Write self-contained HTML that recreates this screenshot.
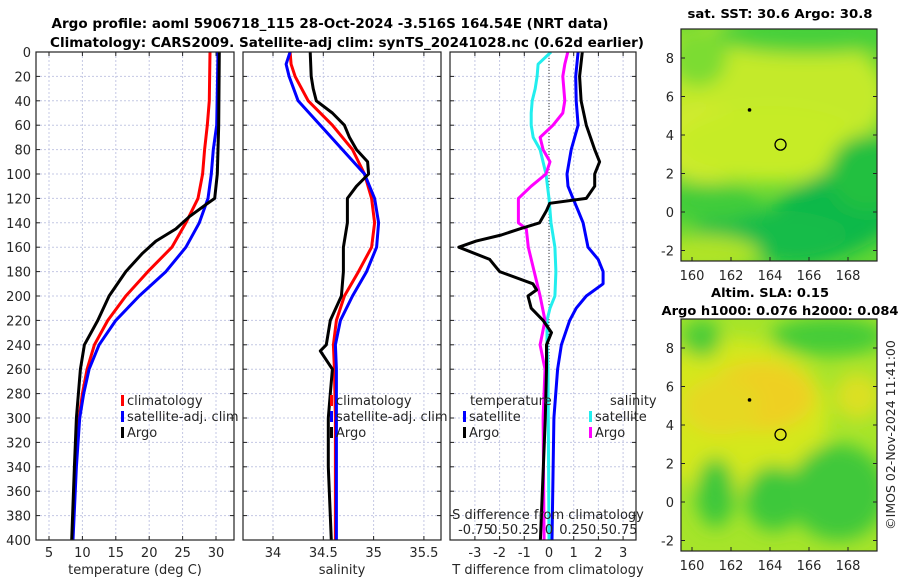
<!DOCTYPE html>
<html><head><meta charset="utf-8"><style>
body{margin:0;background:#fff;width:900px;height:580px;overflow:hidden}
svg{display:block;font-family:"DejaVu Sans","Liberation Sans",sans-serif}
</style></head><body>
<svg id="chart" width="900" height="580" viewBox="0 0 900 580" xmlns="http://www.w3.org/2000/svg">
<defs>
<filter id="blur" x="-20%" y="-20%" width="140%" height="140%"><feGaussianBlur stdDeviation="9"/></filter>
<clipPath id="c1"><rect x="36" y="52" width="198" height="488"/></clipPath>
<clipPath id="c2"><rect x="243" y="52" width="198" height="488"/></clipPath>
<clipPath id="c3"><rect x="450" y="52" width="186" height="488"/></clipPath>
<clipPath id="m1"><rect x="681" y="29" width="196" height="232"/></clipPath>
<clipPath id="m2"><rect x="681" y="319" width="196" height="232"/></clipPath>
</defs>
<text x="330" y="28" text-anchor="middle" font-weight="bold" font-size="13" textLength="557" lengthAdjust="spacingAndGlyphs">Argo profile: aoml 5906718_115 28-Oct-2024 -3.516S 164.54E (NRT data)</text>
<text x="347" y="47" text-anchor="middle" font-weight="bold" font-size="13" textLength="594" lengthAdjust="spacingAndGlyphs">Climatology: CARS2009. Satellite-adj clim: synTS_20241028.nc (0.62d earlier)</text>
<g id="plots"></g>
<g id="maps"></g>
</svg>
<script>
// depth levels per series
const tDepth=[0,40,60,80,100,120,140,160,180,200,220,240,260,280,300,340,400];
const tClim=[29.1,29.0,28.7,28.3,28.0,27.3,25.5,23.4,19.8,16.5,13.8,11.8,10.7,10.0,9.5,9.0,8.5];
const tSatDepth=[0,60,80,100,120,140,160,180,200,220,240,260,280,300,340,400];
const tSat=[30.3,30.1,29.6,29.3,28.8,27.5,25.5,22.5,18.5,15.0,12.5,11.0,10.2,9.6,9.1,8.6];
const tArgoDepth=[0,60,100,120,125,135,145,155,165,180,200,220,240,260,300,340,400];
const tArgo=[30.5,30.4,30.2,29.8,28.5,26.0,24.0,21.0,19.0,16.5,14.0,12.3,10.3,9.7,9.1,8.8,8.4];
const sDepth=[0,10,20,40,60,80,100,120,140,160,180,200,220,240,260,300,400];
const sClim=[34.17,34.18,34.22,34.35,34.59,34.79,34.91,34.98,35.01,34.98,34.85,34.71,34.63,34.60,34.61,34.62,34.62];
const sSat=[34.17,34.13,34.16,34.25,34.47,34.69,34.91,35.01,35.05,35.03,34.93,34.79,34.67,34.62,34.63,34.63,34.63];
const sArgoDepth=[0,20,30,40,50,60,70,80,90,100,110,120,140,160,180,200,220,240,245,260,280,300,340,400];
const sArgo=[34.37,34.38,34.40,34.43,34.59,34.71,34.76,34.83,34.94,34.95,34.83,34.74,34.74,34.70,34.70,34.68,34.57,34.53,34.47,34.59,34.57,34.55,34.55,34.58];
const dTSatDepth=[0,20,40,60,80,100,110,120,130,140,160,170,180,190,200,210,220,240,260,300,400];
const dTSat=[1.18,1.08,1.1,1.18,0.9,0.73,0.77,0.97,1.18,1.38,1.58,1.99,2.19,2.19,1.51,1.1,0.84,0.5,0.35,0.2,0.12];
const dTArgoDepth=[0,20,40,60,80,90,100,110,120,124,130,140,145,150,155,160,170,180,190,195,200,210,220,230,240,260,300,400];
const dTArgo=[1.35,1.24,1.3,1.51,1.85,2.05,1.85,1.85,1.51,0.03,-0.1,-0.38,-1.19,-1.93,-2.95,-3.65,-2.4,-2.0,-0.65,-0.5,-0.85,-0.72,-0.24,0.1,-0.1,-0.1,-0.15,-0.35];
const dSSatDepth=[0,10,20,30,40,50,60,70,80,100,120,140,160,180,200,210,220,240,260,400];
const dSSat=[0.02,-0.11,-0.12,-0.14,-0.17,-0.18,-0.18,-0.16,-0.09,-0.03,0,0.02,0.06,0.07,0.06,0.01,-0.02,-0.02,-0.01,0.0];
const dSArgoDepth=[0,10,20,40,50,60,70,80,90,100,110,120,140,145,160,180,200,220,240,260,300,400];
const dSArgo=[0.19,0.16,0.14,0.16,0.14,0.04,-0.09,-0.06,0.01,-0.03,-0.18,-0.31,-0.31,-0.23,-0.21,-0.15,-0.09,-0.04,-0.09,-0.04,-0.06,-0.05];
const depthTicks=[0,20,40,60,80,100,120,140,160,180,200,220,240,260,280,300,320,340,360,380,400];
const tTicks=[5,10,15,20,25,30];
const sTicks=[34,34.5,35,35.5];
const sTickLabels=["34","34.5","35","35.5"];
const dTicks=[-3,-2,-1,0,1,2,3];
const dSTickLabels=["-0.75","0.5","0.25","0","0.25","0.5","0.75"];
const dSTicks=[-0.75,-0.5,-0.25,0,0.25,0.5,0.75];

const NS='http://www.w3.org/2000/svg';
const g=document.getElementById('plots');
function el(tag,attrs,parent,text){const e=document.createElementNS(NS,tag);for(const k in attrs)e.setAttribute(k,attrs[k]);if(text!==undefined)e.textContent=text;(parent||g).appendChild(e);return e;}
const yD=d=>52+d*1.22;
const xT=t=>49+(t-5)*6.68;
const xS=s=>273+(s-34)*100.6;
const xDT=t=>549+t*24.7;
const xDS=s=>549+s*98.8;
const panels=[{x:36,w:198,clip:'c1',ticks:tTicks,labels:tTicks.map(String),fx:xT,name:'temperature-panel',xl:'temperature (deg C)',xlx:135},
{x:243,w:198,clip:'c2',ticks:sTicks,labels:sTickLabels,fx:xS,name:'salinity-panel',xl:'salinity',xlx:342},
{x:450,w:186,clip:'c3',ticks:dTicks,labels:dTicks.map(String),fx:xDT,name:'difference-panel',xl:'T difference from climatology',xlx:548}];
panels.forEach((p,pi)=>{
  const pg=el('g',{});
  
  
  depthTicks.forEach(d=>{
    if(d>0&&d<400){const l=el('line',{x1:p.x,x2:p.x+p.w,y1:yD(d),y2:yD(d),stroke:'#c4c8e4','stroke-width':1,'stroke-dasharray':'2,2'},pg);
    }
    el('line',{x1:p.x,x2:p.x+4,y1:yD(d),y2:yD(d),stroke:'#222'},pg);
    el('line',{x1:p.x+p.w,x2:p.x+p.w-4,y1:yD(d),y2:yD(d),stroke:'#222'},pg);
    if(pi===0){const t=el('text',{x:p.x-5,y:yD(d)+5,'text-anchor':'end','font-size':13,fill:'#262626'},pg,String(d));
    }
  });
  p.ticks.forEach((v,i)=>{
    const x=p.fx(v);
    el('line',{x1:x,x2:x,y1:52,y2:540,stroke:'#c4c8e4','stroke-dasharray':'2,2'},pg);
    el('line',{x1:x,x2:x,y1:540,y2:536,stroke:'#222'},pg);
    el('line',{x1:x,x2:x,y1:52,y2:56,stroke:'#222'},pg);
    const t=el('text',{x:x,y:557,'text-anchor':'middle','font-size':13,fill:'#262626'},pg,p.labels[i]);
    
  });
  const xl=el('text',{x:p.xlx,y:574,'text-anchor':'middle','font-size':13,fill:'#262626'},pg,p.xl);
  
});
function series(depths,vals,fx,color,clip,name,w){
  const pts=depths.map((d,i)=>fx(vals[i]).toFixed(1)+','+yD(d).toFixed(1)).join(' ');
  const pl=el('polyline',{points:pts,fill:'none',stroke:color,'stroke-width':w||3,'stroke-linejoin':'round','clip-path':'url(#'+clip+')'});
  
  
}
// zero line in diff panel
const z=el('line',{x1:xDT(0),x2:xDT(0),y1:52,y2:540,stroke:'#333','stroke-width':1,'stroke-dasharray':'1,2'});


series(tDepth,tClim,xT,'#ff0000','c1','temp-climatology-line');
series(tSatDepth,tSat,xT,'#0000ff','c1','temp-satellite-line');
series(tArgoDepth,tArgo,xT,'#000','c1','temp-argo-line');
series(sDepth,sClim,xS,'#ff0000','c2','sal-climatology-line');
series(sDepth,sSat,xS,'#0000ff','c2','sal-satellite-line');
series(sArgoDepth,sArgo,xS,'#000','c2','sal-argo-line');
series(dSSatDepth,dSSat,xDS,'#22eeee','c3','sdiff-satellite-line');
series(dSArgoDepth,dSArgo,xDS,'#ff00ff','c3','sdiff-argo-line');
series(dTSatDepth,dTSat,xDT,'#0000ff','c3','tdiff-satellite-line');
series(dTArgoDepth,dTArgo,xDT,'#000','c3','tdiff-argo-line');
// S diff labels inside plot
const sl=el('text',{x:548,y:519,'text-anchor':'middle','font-size':13,fill:'#262626'},g,'S difference from climatology');


dSTicks.forEach((v,i)=>{
  const t=el('text',{x:xDS(v),y:534,'text-anchor':'middle','font-size':13,fill:'#262626'},g,dSTickLabels[i]);
  
  
});
// frames
panels.forEach(p=>{el('rect',{x:p.x,y:52,width:p.w,height:488,fill:'none',stroke:'#222','stroke-width':1.2});});
// legends
function legend(x,y,color,label){
  const lg=el('g',{});
  
  
  el('rect',{x:x,y:y-10,width:3,height:11,fill:color},lg);
  el('text',{x:x+6,y:y,'font-size':13,fill:'#262626'},lg,label);
}
legend(121,405,'#ff0000','climatology');legend(121,421,'#0000ff','satellite-adj. clim');legend(121,437,'#000','Argo');
legend(330,405,'#ff0000','climatology');legend(330,421,'#0000ff','satellite-adj. clim');legend(330,437,'#000','Argo');
const lt=el('text',{x:470,y:405,'font-size':13,fill:'#262626'},g,'temperature');


const ls=el('text',{x:610,y:405,'font-size':13,fill:'#262626'},g,'salinity');


legend(463,421,'#0000ff','satellite');legend(463,437,'#000','Argo');
legend(589,421,'#22eeee','satellite');legend(589,437,'#ff00ff','Argo');

// ---- maps ----
const mg=document.getElementById('maps');
const lonTicks=[160,162,164,166,168];
const latTicks=[-2,0,2,4,6,8];
const xLon=l=>692+(l-160)*19.5;
function drawMap(top,zero,clip,name,blobs,base){
  const yLat=a=>zero-a*19.25;
  const m=el('g',{},mg);
  
  
  el('rect',{x:681,y:top,width:196,height:232,fill:base},m);
  const bg=el('g',{filter:'url(#blur)','clip-path':'url(#'+clip+')'},m);
  blobs.forEach(b=>el('ellipse',{cx:xLon(b[0]),cy:yLat(b[1]),rx:b[2]*19.5,ry:b[3]*19.25,fill:b[4],transform:'rotate('+(b[5]||0)+' '+xLon(b[0])+' '+yLat(b[1])+')'},bg));
  const c=el('circle',{cx:xLon(164.54),cy:yLat(3.5),r:5.5,fill:'none',stroke:'#000','stroke-width':1.3},m);
  
  
  el('circle',{cx:xLon(162.95),cy:yLat(5.3),r:1.8,fill:'#000'},m);
  el('rect',{x:681,y:top,width:196,height:232,fill:'none',stroke:'#222','stroke-width':1.2},m);
  latTicks.forEach(a=>{
    el('line',{x1:681,x2:685,y1:yLat(a),y2:yLat(a),stroke:'#222'},m);
    el('line',{x1:877,x2:873,y1:yLat(a),y2:yLat(a),stroke:'#222'},m);
    const t=el('text',{x:674,y:yLat(a)+5,'text-anchor':'end','font-size':13,fill:'#262626'},m,String(a));
    
    
  });
  lonTicks.forEach(l=>{
    el('line',{x1:xLon(l),x2:xLon(l),y1:top+232,y2:top+228,stroke:'#222'},m);
    const t=el('text',{x:xLon(l),y:top+251,'text-anchor':'middle','font-size':13,fill:'#262626'},m,String(l));
    
    
  });
}
drawMap(29,212,'m1','sst-map',[
 [163,6,7,4,'#c4ea2a'],[161,3.5,3,2,'#d6ea30'],[164,3.5,5,2,'#c6ec26'],
 [167.5,0,4.5,2.2,'#0fb84a',-25],[164,-1.2,4,1.3,'#18bc48'],[169,2,2,2,'#20c040'],
 [161,0.5,2.5,1,'#40cc3a'],[160.5,-2.2,3,1,'#b0e428'],[166,9.2,5,1,'#46d03a'],[160.3,8,1.5,1.5,'#7cdc30']
],'#60d634');
drawMap(319,502,'m2','sla-map',[
 [162,4.5,5,4,'#d4e81e'],[163.5,5.5,2.8,1.8,'#eed020'],[161.5,5,2,1.5,'#e6d822'],[168.5,5.5,1.2,1.2,'#dce020'],
 [161.2,0.5,1,1.8,'#3cc83a'],[164.2,0.2,1.5,1.7,'#3cc83a'],[167.5,0.5,2.5,2.5,'#40c83a'],[160.5,8.5,1,1,'#4ccc38'],
 [167,8.6,3,1,'#44cc38']
],'#a6e42a');
const mt=[['sst-map-title',780,18,'sat. SST: 30.6 Argo: 30.8',185],['sla-map-title',770,297,'Altim. SLA: 0.15',118],['sla-map-subtitle',780,315,'Argo h1000: 0.076 h2000: 0.084',237]];
mt.forEach(a=>{
  const t=el('text',{x:a[1],y:a[2],'text-anchor':'middle','font-size':12.5,'font-weight':'bold',textLength:a[4],lengthAdjust:'spacingAndGlyphs'},mg,a[3]);
  
  
});
const cr=el('text',{x:0,y:0,'font-size':12.5,'text-anchor':'middle',fill:'#262626',transform:'translate(895,435) rotate(-90)'},mg,'©IMOS 02-Nov-2024 11:41:00');


</script>
</body></html>
